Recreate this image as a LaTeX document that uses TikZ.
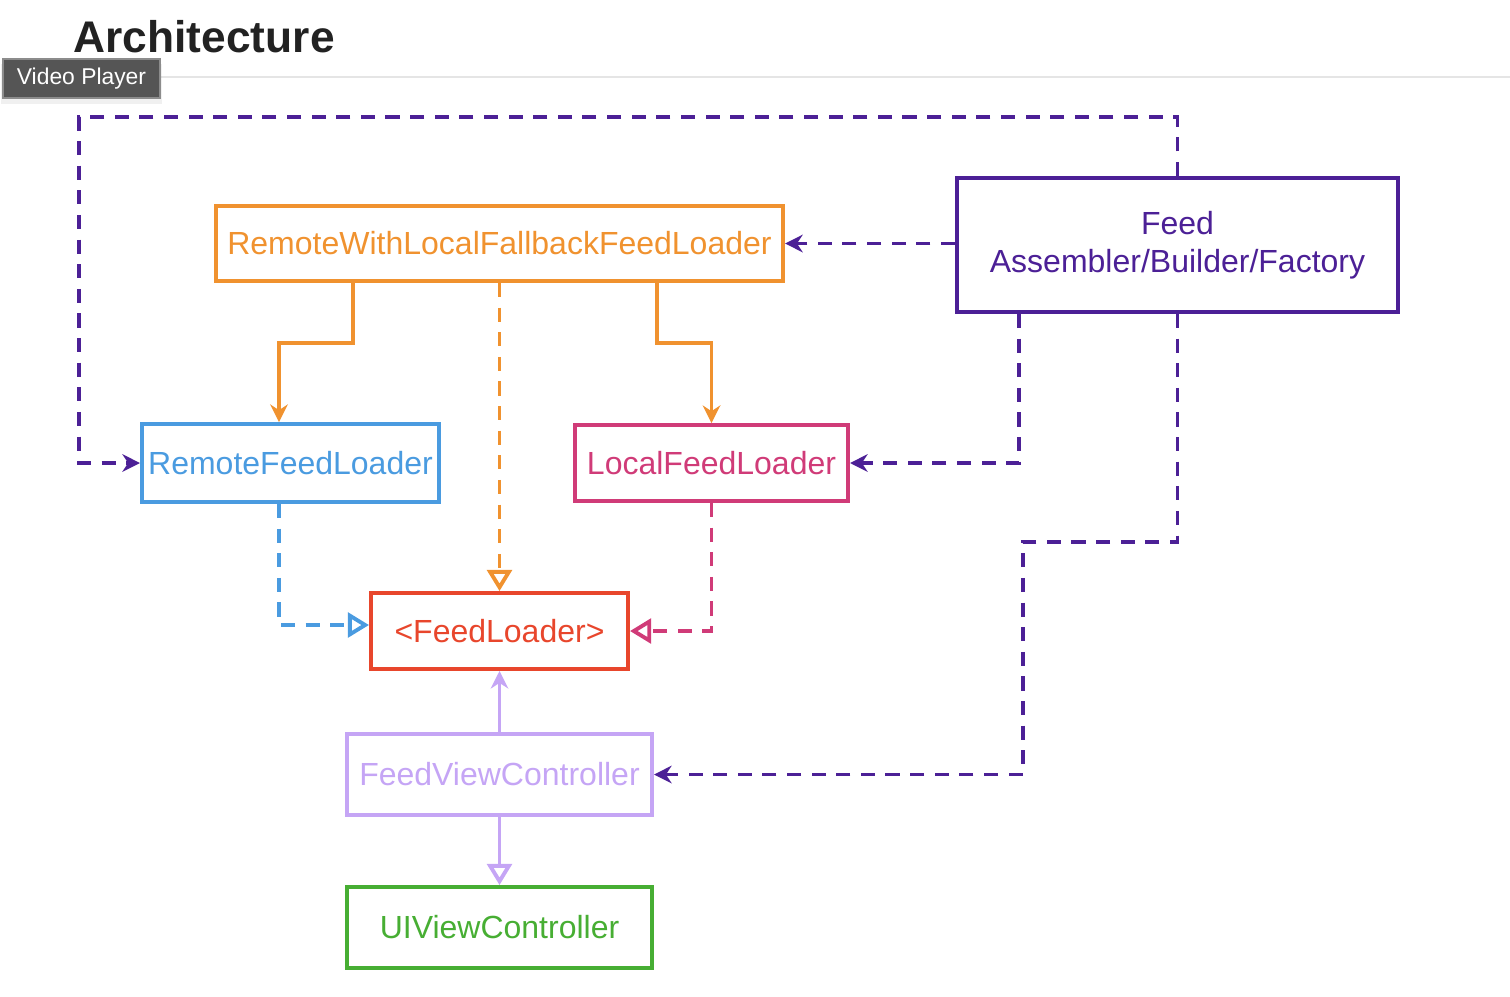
\documentclass[tikz,border=0pt]{standalone}
\usepackage{fontspec}
\setmainfont{Liberation Sans}
\usetikzlibrary{arrows.meta,shadows}
\definecolor{fallbackorange}{RGB}{240,146,47}
\definecolor{factorypurple}{RGB}{76,32,150}
\definecolor{remoteblue}{RGB}{74,155,224}
\definecolor{localpink}{RGB}{208,59,120}
\definecolor{loaderred}{RGB}{232,70,44}
\definecolor{viewlavender}{RGB}{197,165,245}
\definecolor{uikitgreen}{RGB}{71,174,51}
\definecolor{titlegray}{RGB}{34,34,34}
\definecolor{tipgray}{RGB}{85,85,85}

\begin{document}
\begin{tikzpicture}[x=0.01cm,y=-0.01cm,
	box/.style={draw, line width=1.1pt, inner sep=0pt, align=center, font=\fontsize{9.1}{10.8}\selectfont},
	link/.style={line width=1.1pt},
	dep/.style={line width=1.1pt, dash pattern=on 4pt off 3pt},
	uses/.style={-{Stealth[length=5pt,width=5pt]}},
	impl/.style={-{Triangle[open,length=6pt,width=7pt]}}]
	\useasboundingbox (0,0) rectangle (1510,996);

	\node[anchor=base west, inner sep=0pt, text=titlegray, font=\fontsize{12.6}{15}\selectfont\bfseries] (title) at (73,52) {Architecture};
	\draw[black!10, line width=0.5pt] (73,77) -- (1510,77);
	\node[fill=tipgray, draw=black!45, text=white, minimum width=1.57cm, minimum height=0.39cm, inner sep=0pt,
		font=\fontsize{6.5}{8}\selectfont, drop shadow={opacity=0.12, shadow xshift=0pt, shadow yshift=-1.5pt, shadow scale=1.03}] (tooltip) at (81.5,78.5) {Video Player};

	\node[box, color=fallbackorange, minimum width=5.67cm, minimum height=0.75cm] (rwlf) at (499.5,243.5) {RemoteWithLocalFallbackFeedLoader};
	\node[box, color=factorypurple, minimum width=4.41cm, minimum height=1.34cm] (factory) at (1177.5,245) {Feed\\Assembler/Builder/Factory};
	\node[box, color=remoteblue, minimum width=2.97cm, minimum height=0.78cm] (remote) at (290.5,463) {RemoteFeedLoader};
	\node[box, color=localpink, minimum width=2.73cm, minimum height=0.76cm] (local) at (711.5,463) {LocalFeedLoader};
	\node[box, color=loaderred, minimum width=2.57cm, minimum height=0.76cm] (loader) at (499.5,631) {<FeedLoader>};
	\node[box, color=viewlavender, minimum width=3.05cm, minimum height=0.81cm] (fvc) at (499.5,774.5) {FeedViewController};
	\node[box, color=uikitgreen, minimum width=3.05cm, minimum height=0.81cm] (uivc) at (499.5,927.5) {UIViewController};

	\draw[link, uses, fallbackorange] ([xshift=-1.465cm]rwlf.south) -- ++(0,60) -| ([xshift=-0.115cm]remote.north);
	\draw[link, uses, fallbackorange] ([xshift=1.575cm]rwlf.south) -- ++(0,60) -| (local.north);
	\draw[dep, impl, fallbackorange] (rwlf.south) -- (loader.north);
	\draw[dep, impl, remoteblue] ([xshift=-0.115cm]remote.south) |- ([yshift=0.06cm]loader.west);
	\draw[dep, impl, localpink] (local.south) |- (loader.east);
	\draw[link, uses, viewlavender] (fvc.north) -- (loader.south);
	\draw[link, impl, viewlavender] (fvc.south) -- (uivc.north);

	\draw[dep, uses, factorypurple] (factory.west |- rwlf.east) -- (rwlf.east);
	\draw[dep, uses, factorypurple] (factory.north) -- ++(0,-59) -- ++(-1098.5,0) |- (remote.west);
	\draw[dep, uses, factorypurple] ([xshift=-1.585cm]factory.south) |- (local.east);
	\draw[dep, uses, factorypurple] (factory.south) -- ++(0,228) -- ++(-154.5,0) |- (fvc.east);
\end{tikzpicture}
\end{document}
